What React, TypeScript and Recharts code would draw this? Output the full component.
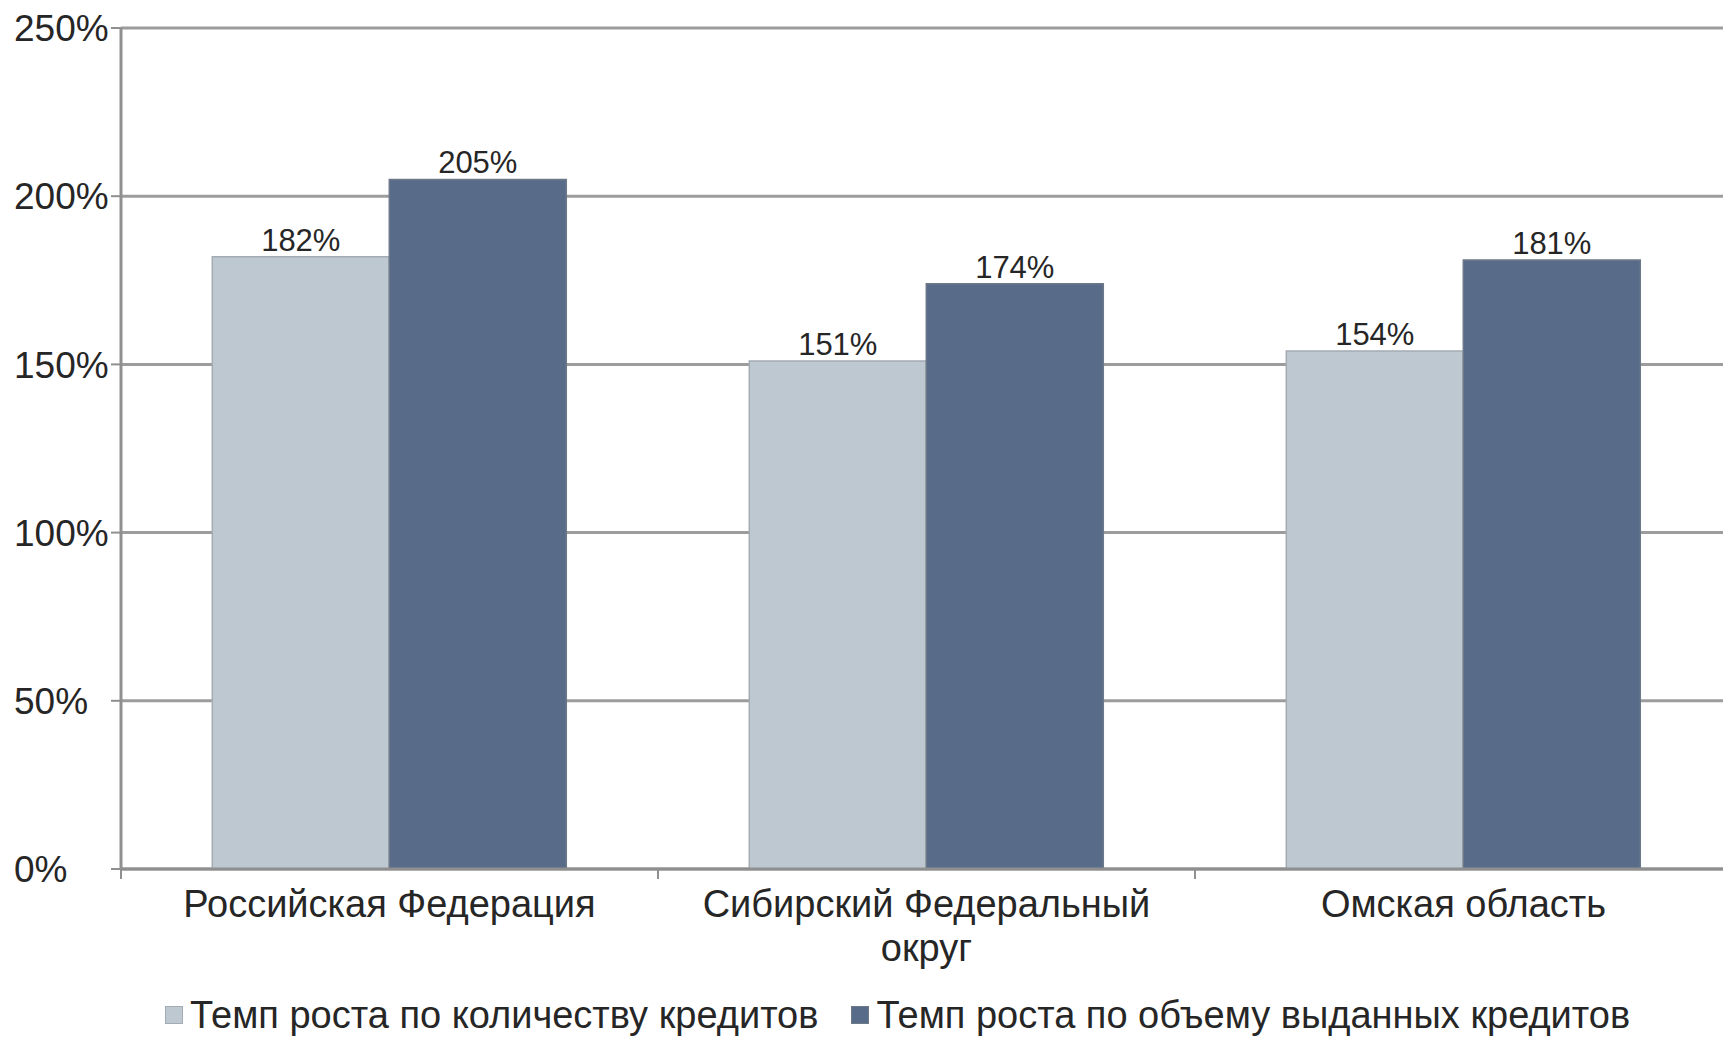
import React from 'react';
import { BarChart, Bar, XAxis, YAxis, CartesianGrid, LabelList, Legend } from 'recharts';

const categories = ['Российская Федерация', 'Сибирский Федеральный округ', 'Омская область'];
const countGrowth = [182, 151, 154];
const volumeGrowth = [205, 174, 181];
const yTicks = [0, 50, 100, 150, 200, 250];
const seriesNames = ['Темп роста по количеству кредитов', 'Темп роста по объему выданных кредитов'];
const seriesColors = ['#bec8d1', '#586c8a'];
const seriesStrokes = ['#a4abb3', '#6d7889'];

const data = categories.map((name, i) => ({
  name,
  count: countGrowth[i],
  volume: volumeGrowth[i],
}));

const FONT = '"Liberation Sans", Arial, sans-serif';
const TEXT_COLOR = '#262626';
const AXIS_COLOR = '#8f8f8f';
const MAX_CHARS = 23;
const Y_LABEL_LEFT = 14;

function wrapLabel(label: string): string[] {
  const words = String(label).split(' ');
  const lines: string[] = [];
  let cur = '';
  words.forEach((w) => {
    const next = cur ? `${cur} ${w}` : w;
    if (next.length > MAX_CHARS && cur) {
      lines.push(cur);
      cur = w;
    } else {
      cur = next;
    }
  });
  if (cur) lines.push(cur);
  return lines;
}

const XTick = (props: any) => {
  const { x, y, payload, index } = props;
  const half = payload && payload.offset ? payload.offset : 0;
  const isLast = index === categories.length - 1;
  const lines = wrapLabel(payload.value);
  return (
    <g>
      <line x1={x - half} x2={x - half} y1={y} y2={y + 10} stroke={AXIS_COLOR} strokeWidth={2} />
      {isLast && <line x1={x + half} x2={x + half} y1={y} y2={y + 10} stroke={AXIS_COLOR} strokeWidth={2} />}
      <text x={x} y={y + 48} textAnchor="middle" fill={TEXT_COLOR} style={{ fontSize: 38, fontFamily: FONT }}>
        {lines.map((line, i) => (
          <tspan key={i} x={x} dy={i === 0 ? 0 : 44}>
            {line}
          </tspan>
        ))}
      </text>
    </g>
  );
};

const YTick = (props: any) => {
  const { y, payload } = props;
  return (
    <text x={Y_LABEL_LEFT} y={y} dy="0.355em" textAnchor="start" fill={TEXT_COLOR} style={{ fontSize: 37, fontFamily: FONT }}>
      {`${payload.value}%`}
    </text>
  );
};

const LegendContent = (props: any) => {
  const payload = props.payload || [];
  return (
    <div style={{ display: 'flex', alignItems: 'center', fontFamily: FONT, fontSize: 38, lineHeight: '38px', color: TEXT_COLOR, whiteSpace: 'nowrap' }}>
      {payload.map((entry: any, i: number) => (
        <div key={i} style={{ display: 'flex', alignItems: 'center', marginRight: 33 }}>
          <span
            style={{
              display: 'inline-block',
              width: 16,
              height: 16,
              background: seriesColors[i],
              border: `1px solid ${seriesStrokes[i]}`,
              marginRight: 7,
            }}
          />
          <span>{entry.value}</span>
        </div>
      ))}
    </div>
  );
};

export default function App() {
  return (
    <div style={{ position: 'absolute', left: 0, top: 0, width: 1723, height: 1037, overflow: 'hidden', background: '#fff' }}>
      <BarChart
        width={1740}
        height={1037}
        data={data}
        margin={{ top: 28, right: 8, left: 0, bottom: 0 }}
        barCategoryGap="17%"
        barGap={0}
        style={{ fontFamily: FONT }}
      >
        <CartesianGrid vertical={false} stroke="#9c9c9c" strokeWidth={3} />
        <XAxis
          dataKey="name"
          height={168}
          interval={0}
          tickSize={0}
          tickMargin={0}
          tickLine={false}
          axisLine={{ stroke: AXIS_COLOR, strokeWidth: 3 }}
          tick={<XTick />}
        />
        <YAxis
          width={121}
          domain={[0, 250]}
          ticks={yTicks}
          interval={0}
          tickSize={10}
          tickMargin={3}
          tick={<YTick />}
          tickLine={{ stroke: AXIS_COLOR, strokeWidth: 2 }}
          axisLine={{ stroke: AXIS_COLOR, strokeWidth: 3 }}
        />
        <Legend
          layout="horizontal"
          verticalAlign="middle"
          align="center"
          content={<LegendContent />}
          wrapperStyle={{ top: 996, left: 165, width: 1550, height: 38 }}
        />
        <Bar dataKey="count" name={seriesNames[0]} fill={seriesColors[0]} stroke={seriesStrokes[0]} strokeWidth={1.5} isAnimationActive={false}>
          <LabelList dataKey="count" position="top" offset={6} formatter={(v: any) => `${v}%`} style={{ fontSize: 31, fill: TEXT_COLOR, fontFamily: FONT }} />
        </Bar>
        <Bar dataKey="volume" name={seriesNames[1]} fill={seriesColors[1]} stroke={seriesStrokes[1]} strokeWidth={1.5} isAnimationActive={false}>
          <LabelList dataKey="volume" position="top" offset={6} formatter={(v: any) => `${v}%`} style={{ fontSize: 31, fill: TEXT_COLOR, fontFamily: FONT }} />
        </Bar>
      </BarChart>
    </div>
  );
}
